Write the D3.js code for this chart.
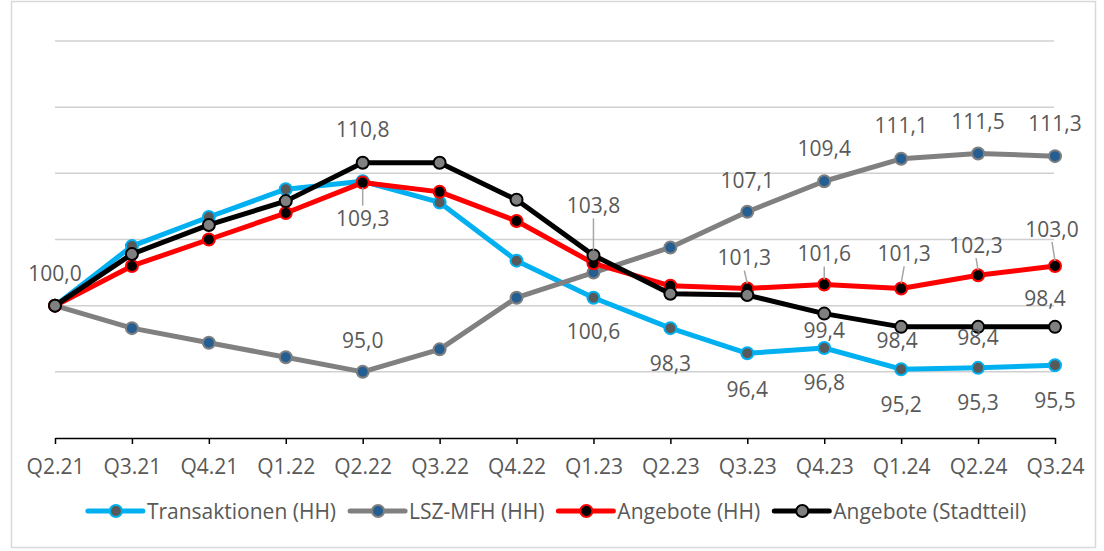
<!DOCTYPE html>
<html>
<head>
<meta charset="utf-8">
<script src="https://cdn.jsdelivr.net/npm/d3@7"></script>
<style>
  html, body { margin: 0; padding: 0; background: #fff; }
  svg { display: block; }
  text { font-family: "Open Sans", "DejaVu Sans", sans-serif; fill: #595959; }
</style>
</head>
<body>
<svg id="chart" width="1104" height="551"></svg>
<script>
// ---- data ----
const categories = ["Q2.21","Q3.21","Q4.21","Q1.22","Q2.22","Q3.22","Q4.22","Q1.23","Q2.23","Q3.23","Q4.23","Q1.24","Q2.24","Q3.24"];
const transaktionen = [100.0,104.5,106.7,108.8,109.4,107.8,103.4,100.6,98.3,96.4,96.8,95.2,95.3,95.5];
const lszMfh        = [100.0,98.3,97.2,96.1,95.0,96.7,100.6,102.5,104.4,107.1,109.4,111.1,111.5,111.3];
const angeboteHH    = [100.0,103.0,105.0,107.0,109.3,108.6,106.4,103.2,101.5,101.3,101.6,101.3,102.3,103.0];
const angeboteST    = [100.0,103.9,106.1,107.9,110.8,110.8,108.0,103.8,100.9,100.8,99.4,98.4,98.4,98.4];
const seriesNames   = ["Transaktionen (HH)","LSZ-MFH (HH)","Angebote (HH)","Angebote (Stadtteil)"];
const yTicks = [90,95,100,105,110,115,120];

// ---- styles ----
const FONT = 21;
const series = [
  {name: seriesNames[0], values: transaktionen, line: "#00b0f0", fill: "#595959", stroke: "#00b0f0"},
  {name: seriesNames[1], values: lszMfh,        line: "#808080", fill: "#255e91", stroke: "#808080"},
  {name: seriesNames[2], values: angeboteHH,    line: "#ff0000", fill: "#000000", stroke: "#ff0000"},
  {name: seriesNames[3], values: angeboteST,    line: "#000000", fill: "#808080", stroke: "#000000"}
];

// label placement: [seriesIndex, pointIndex, dx, dy, leader]
const labelPlacement = [
  [3,0,0,-32,false],
  [3,4,0,-33,false],
  [2,4,0,36,true],
  [1,4,0,-31,false],
  [3,7,0,-50,true],
  [0,7,0,34,false],
  [0,8,0,35,false],
  [0,9,0,36,false],
  [0,10,0,34,false],
  [0,11,0,35,false],
  [0,12,0,35,false],
  [0,13,0,35,false],
  [1,9,0,-31,false],
  [1,10,0,-33,false],
  [1,11,0,-33,false],
  [1,12,0,-32,false],
  [1,13,0,-33,false],
  [2,9,-3,-31,true],
  [2,10,0,-31,true],
  [2,11,3,-35,true],
  [2,12,-2,-30,true],
  [2,13,-3,-37,true],
  [3,10,0,17,false],
  [3,11,-4,14,false],
  [3,12,0,11,false],
  [3,13,-10,-28,false]
];

const svg = d3.select("#chart");

// outer border
svg.append("rect").attr("x",11.5).attr("y",1.5).attr("width",1084).attr("height",546)
  .attr("fill","#fff").attr("stroke","#d9d9d9").attr("stroke-width",1.5);

const x = d3.scalePoint().domain(categories).range([55,1055]);
const y = d3.scaleLinear().domain([90,120]).range([438,41]);

// gridlines
svg.append("g").selectAll("line").data(yTicks.filter(t => t > 90)).join("line")
  .attr("x1",55).attr("x2",1054)
  .attr("y1",d => y(d)).attr("y2",d => y(d))
  .attr("stroke","#d0d0d0").attr("stroke-width",1.5);

// x axis
const xAxis = svg.append("g").attr("transform","translate(0,438)")
  .call(d3.axisBottom(x).tickSizeInner(6).tickSizeOuter(0).tickPadding(10));
xAxis.select(".domain").attr("stroke","#000").attr("stroke-width",1.5);
xAxis.selectAll(".tick line").attr("stroke","#000").attr("stroke-width",1.5);
xAxis.selectAll(".tick text").attr("font-size",FONT).attr("fill","#595959")
  .attr("font-family","'Open Sans', sans-serif").attr("dy","0.95em");

// lines
const lineGen = d3.line().x((d,i) => x(categories[i])).y(d => y(d));
series.forEach(s => {
  svg.append("path").datum(s.values)
    .attr("d", lineGen).attr("fill","none")
    .attr("stroke", s.line).attr("stroke-width",5).attr("stroke-linejoin","round");
  svg.append("g").selectAll("circle").data(s.values).join("circle")
    .attr("cx",(d,i) => x(categories[i])).attr("cy", d => y(d))
    .attr("r",6).attr("fill", s.fill).attr("stroke", s.stroke).attr("stroke-width",2);
});

// labels
const fmt = v => v.toFixed(1).replace(".", ",");
const lab = svg.append("g");
labelPlacement.forEach(([si, pi, dx, dy, leader]) => {
  const v = series[si].values[pi];
  const px = x(categories[pi]), py = y(v);
  const lx = px + dx, ly = py + dy;
  if (leader) {
    let y1, y2;
    if (dy < 0) { y1 = ly + 13; y2 = py - 5; }
    else { y1 = py + 5; y2 = ly - 13; }
    lab.append("line").attr("x1", dy < 0 ? lx : px).attr("y1", y1)
      .attr("x2", dy < 0 ? px : lx).attr("y2", y2)
      .attr("stroke","#a6a6a6").attr("stroke-width",1.5);
  }
  lab.append("text").attr("x", lx).attr("y", ly).attr("dy","0.36em")
    .attr("text-anchor","middle").attr("font-size",FONT).text(fmt(v));
});

// legend
const leg = svg.append("g");
let cx = 0;
series.forEach(s => {
  const g = leg.append("g").attr("transform",`translate(${cx},0)`);
  g.append("line").attr("x1",0).attr("x2",55).attr("y1",0).attr("y2",0)
    .attr("stroke", s.line).attr("stroke-width",5).attr("stroke-linecap","round");
  g.append("circle").attr("cx",28).attr("cy",0).attr("r",6)
    .attr("fill", s.fill).attr("stroke", s.stroke).attr("stroke-width",2);
  const t = g.append("text").attr("x",59).attr("y",0).attr("dy","0.36em")
    .attr("font-size",FONT).text(s.name);
  cx += 59 + t.node().getComputedTextLength() + 14;
});
const legW = cx - 14;
leg.attr("transform",`translate(${557 - legW/2},511)`);
</script>
</body>
</html>
